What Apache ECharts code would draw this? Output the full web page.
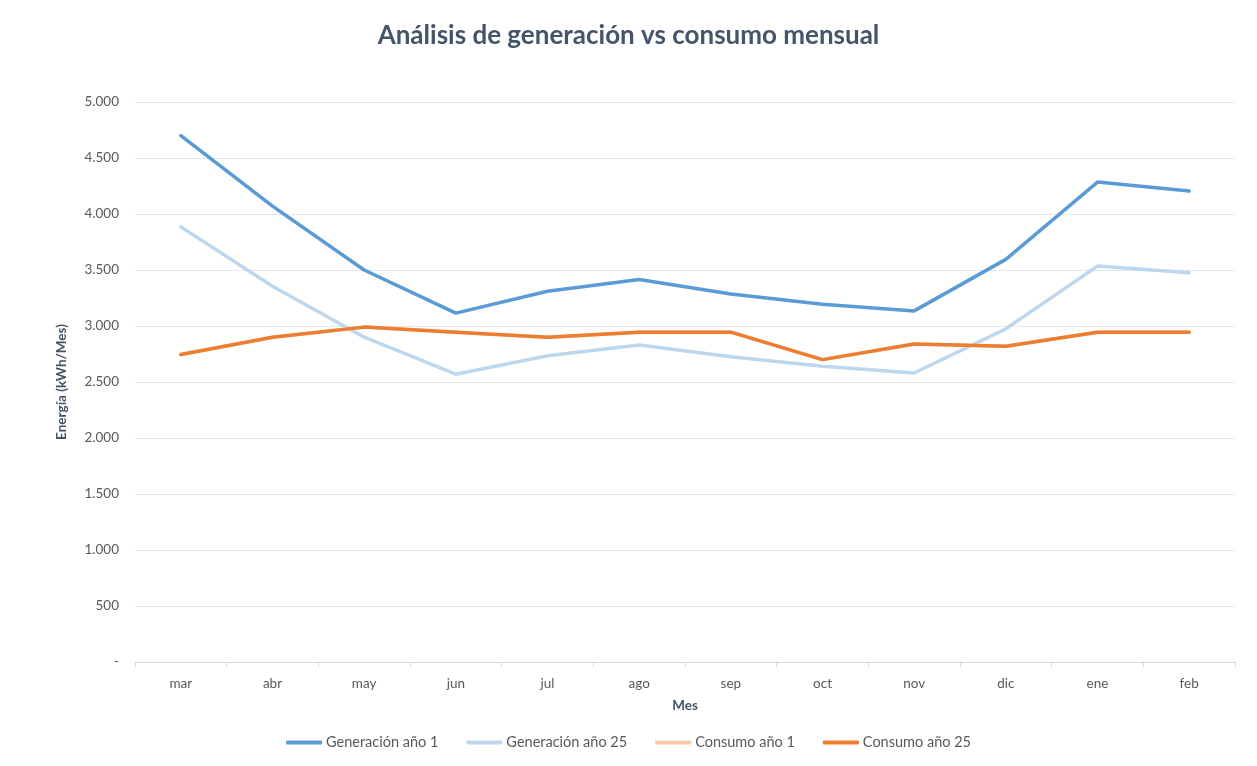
<!DOCTYPE html>
<html><head><meta charset="utf-8">
<script src="https://cdn.jsdelivr.net/npm/echarts@6/dist/echarts.min.js"></script>
<style>html,body{margin:0;padding:0;background:#fff}#c{width:1257px;height:766px}</style>
</head><body><div id="c"></div>
<script>
const categories = ['mar','abr','may','jun','jul','ago','sep','oct','nov','dic','ene','feb'];
const genAnio1  = [4700, 4070, 3500, 3115, 3310, 3415, 3285, 3195, 3135, 3595, 4285, 4205];
const genAnio25 = [3885, 3355, 2900, 2570, 2735, 2830, 2725, 2640, 2580, 2975, 3535, 3475];
const consAnio1 = [2745, 2900, 2990, 2945, 2900, 2945, 2945, 2700, 2840, 2820, 2945, 2945];
const consAnio25 = [2745, 2900, 2990, 2945, 2900, 2945, 2945, 2700, 2840, 2820, 2945, 2945];
const seriesNames = ['Generación año 1','Generación año 25','Consumo año 1','Consumo año 25'];
const seriesColors = ['#5B9BD5','#BDD7EE','#F8CBAD','#ED7D31'];

const FONT = 'Lato, "Open Sans", sans-serif';
const chart = echarts.init(document.getElementById('c'), null, {renderer:'canvas'});
const datas = [genAnio1, genAnio25, consAnio1, consAnio25];
chart.setOption({
  animation:false,
  textStyle:{fontFamily:FONT},
  title:{text:'Análisis de generación vs consumo mensual', left:'center', top:18,
    textStyle:{fontFamily:FONT, fontSize:26, fontWeight:'bold', color:'#44546A'}},
  legend:{bottom:11, left:'center', itemGap:28, itemWidth:36, itemHeight:4, icon:'roundRect',
    textStyle:{fontFamily:FONT, fontSize:14.5, color:'#595959', padding:[0,0,0,-1]},
    data:seriesNames},
  grid:{left:135, right:22, top:102, bottom:104},
  xAxis:{type:'category', data:categories, boundaryGap:true,
    name:'Mes', nameLocation:'middle', nameGap:37,
    nameTextStyle:{fontFamily:FONT, fontSize:13.5, fontWeight:'bold', color:'#44546A'},
    axisLine:{lineStyle:{color:'#D9D9D9', width:1}},
    axisTick:{show:true, length:5, lineStyle:{color:'#D9D9D9'}},
    axisLabel:{fontFamily:FONT, fontSize:13.5, color:'#595959', margin:15}},
  yAxis:{type:'value', min:0, max:5000, interval:500,
    name:'Energía (kWh/Mes)', nameLocation:'middle', nameGap:66, nameRotate:90,
    nameTextStyle:{fontFamily:FONT, fontSize:13.5, fontWeight:'bold', color:'#44546A'},
    axisLine:{show:false}, axisTick:{show:false},
    splitLine:{lineStyle:{color:'#E3E8F0', width:1}},
    axisLabel:{fontFamily:FONT, fontSize:13.5, color:'#595959', margin:16,
      formatter:v => v === 0 ? '-' : v.toString().replace(/\B(?=(\d{3})+(?!\d))/g, '.')}},
  series: seriesNames.map((n,i)=>({
    name:n, type:'line', data:datas[i], symbol:'none', showSymbol:false,
    lineStyle:{width:3.5, color:seriesColors[i], cap:'round', join:'round'},
    itemStyle:{color:seriesColors[i]}, z: i+2
  }))
});
</script></body></html>
